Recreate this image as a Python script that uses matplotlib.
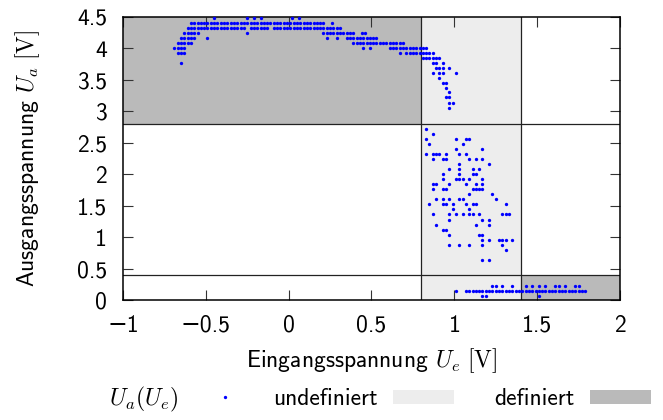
import matplotlib
matplotlib.use("Agg")
import matplotlib.pyplot as plt
from matplotlib.lines import Line2D
from matplotlib.patches import Patch

# ---------------- data ----------------
# Each entry: (Ua level, [Ue values measured at that level])
high_rows = [
    (4.49, [-0.45, -0.25, -0.21, -0.17, 0.02, 0.06]),
    (4.41, [-0.59, -0.57, -0.55, -0.53, -0.51, -0.49, -0.47, -0.45, -0.43, -0.41,
            -0.39, -0.37, -0.35, -0.33, -0.31, -0.29, -0.27, -0.25, -0.23, -0.21,
            -0.19, -0.17, -0.15, -0.13, -0.11, -0.09, -0.07, -0.05, -0.03, -0.01,
            0.01, 0.03, 0.05, 0.07, 0.09, 0.11, 0.13, 0.15, 0.17, 0.19, 0.21, 0.26]),
    (4.33, [-0.61, -0.59, -0.57, -0.55, -0.53, -0.51, -0.49, -0.47, -0.45, -0.43,
            -0.41, -0.39, -0.37, -0.35, -0.33, -0.31, -0.29, -0.27, -0.23, -0.21,
            -0.19, -0.17, -0.15, -0.13, -0.09, -0.07, -0.05, -0.03, -0.01, 0.01,
            0.03, 0.05, 0.07, 0.09, 0.11, 0.13, 0.15, 0.17, 0.19, 0.21, 0.23, 0.25,
            0.27, 0.29, 0.31]),
    (4.25, [-0.63, -0.61, -0.59, -0.57, -0.55, -0.25, 0.21, 0.23, 0.25, 0.27, 0.29,
            0.31, 0.33, 0.35, 0.37, 0.39, 0.44, 0.46]),
    (4.17, [-0.65, -0.63, -0.61, -0.59, -0.57, -0.49, 0.23, 0.29, 0.35, 0.37, 0.39,
            0.41, 0.43, 0.45, 0.47, 0.49, 0.51, 0.53]),
    (4.09, [-0.67, -0.65, -0.63, -0.61, -0.59, 0.39, 0.41, 0.43, 0.45, 0.47, 0.49,
            0.51, 0.53, 0.55, 0.57, 0.59, 0.61, 0.63, 0.65, 0.67, 0.69]),
    (4.01, [-0.69, -0.67, -0.65, -0.63, 0.45, 0.49, 0.61, 0.63, 0.65, 0.67, 0.69,
            0.71, 0.73, 0.75, 0.77, 0.79, 0.81, 0.83]),
    (3.93, [-0.67, -0.65, -0.63, 0.67, 0.71, 0.73, 0.75, 0.77, 0.79, 0.81, 0.83,
            0.85, 0.87]),
    (3.85, [0.81, 0.83, 0.85, 0.87, 0.89, 0.91]),
    (3.77, [-0.65, 0.87, 0.89, 0.93]),
]

transition_rows = [
    (3.69, [0.89, 0.91, 0.93, 0.97]),
    (3.61, [0.87, 0.91, 0.93, 1.01]),
    (3.53, [0.91]),
    (3.45, [0.93, 0.95]),
    (3.37, [0.95]),
    (3.30, [0.97]),
    (3.22, [0.95, 0.97]),
    (3.14, [0.97, 0.99]),
    (3.06, [0.97]),
    (2.72, [0.83]),
    (2.64, [0.87]),
    (2.56, [0.83, 1.01, 1.07, 1.09]),
    (2.48, [0.85, 1.05]),
    (2.40, [1.01, 1.17]),
    (2.32, [0.83, 0.87, 0.89, 0.91, 0.95, 1.03, 1.07]),
    (2.24, [0.87, 0.93, 0.95, 1.09, 1.13, 1.17]),
    (2.16, [1.03, 1.21]),
    (2.08, [0.97, 1.03, 1.11, 1.15]),
    (2.00, [0.93, 1.03, 1.11, 1.13]),
    (1.92, [0.93, 1.01, 1.03, 1.05, 1.09, 1.17]),
    (1.84, [0.87, 0.89, 0.97, 1.07, 1.13, 1.17]),
    (1.76, [0.87, 0.93, 0.95, 1.11, 1.13, 1.15, 1.17]),
    (1.68, [1.09, 1.23]),
    (1.60, [0.89, 0.93, 0.97, 1.03, 1.05, 1.25]),
    (1.52, [0.85, 0.93, 0.95, 0.99, 1.07, 1.11, 1.13, 1.31]),
    (1.44, [0.99, 1.09]),
    (1.36, [0.87, 0.97, 1.01, 1.05, 1.09, 1.11, 1.15, 1.29, 1.31, 1.33]),
    (1.28, [0.97, 1.17, 1.21]),
    (1.20, [0.89, 1.13, 1.21]),
    (1.12, [0.93, 0.95]),
    (1.04, [0.97, 1.15, 1.17]),
    (0.96, [1.17, 1.21, 1.27, 1.29, 1.31, 1.35]),
    (0.88, [0.97, 1.03, 1.09, 1.17, 1.29]),
    (0.80, [1.31]),
    (0.64, [1.17, 1.21]),
]

low_rows = [
    (0.23, [1.23, 1.25, 1.29, 1.35, 1.43, 1.47, 1.51, 1.55, 1.61, 1.63, 1.67, 1.73, 1.75]),
    (0.14, [1.01, 1.07, 1.09, 1.11, 1.13, 1.15, 1.17, 1.19, 1.21, 1.23, 1.25, 1.27,
            1.29, 1.31, 1.33, 1.35, 1.37, 1.39, 1.41, 1.43, 1.45, 1.47, 1.49, 1.51,
            1.53, 1.55, 1.57, 1.59, 1.61, 1.63, 1.65, 1.67, 1.69, 1.71, 1.73, 1.75,
            1.77, 1.79]),
    (0.06, [1.17, 1.19, 1.51]),
]

# regions: (x0, x1, y0, y1)
defined_regions = [(-1.0, 0.8, 2.8, 4.5), (1.4, 2.0, 0.0, 0.4)]
undefined_region = (0.8, 1.4, 0.0, 4.5)
h_limits = [2.8, 0.4]
v_limits = [0.8, 1.4]

x_ticks = [-1, -0.5, 0, 0.5, 1, 1.5, 2]
y_ticks = [0, 0.5, 1, 1.5, 2, 2.5, 3, 3.5, 4, 4.5]

# ---------------- style ----------------
plt.rcParams["font.family"] = ["cmss10", "DejaVu Sans"]
plt.rcParams["mathtext.fontset"] = "cm"
plt.rcParams["axes.unicode_minus"] = True
plt.rcParams["axes.formatter.use_mathtext"] = False
FS = 17

DARK = "#bababa"
LIGHT = "#ededed"
BLUE = "#0000ff"

fig = plt.figure(figsize=(6.63, 4.2), dpi=100)
ax = fig.add_axes([123 / 663, 1 - 300 / 420, (620 - 123) / 663, (300 - 17) / 420])

# regions
ux0, ux1, uy0, uy1 = undefined_region
ax.fill_between([ux0, ux1], uy0, uy1, color=LIGHT, lw=0, zorder=0)
for (x0, x1, y0, y1) in defined_regions:
    ax.fill_between([x0, x1], y0, y1, color=DARK, lw=0, zorder=0)
for yv in h_limits:
    ax.axhline(yv, color="#222222", lw=0.9, zorder=1)
for xv in v_limits:
    ax.axvline(xv, color="#222222", lw=0.9, zorder=1)

# points
xs, ys = [], []
for group in (high_rows, transition_rows, low_rows):
    for ua, ues in group:
        for ue in ues:
            xs.append(ue)
            ys.append(ua)
ax.plot(xs, ys, linestyle="none", marker="o", markersize=2.4, markeredgewidth=0,
        color=BLUE, zorder=3, clip_on=False)

ax.set_xlim(-1, 2)
ax.set_ylim(0, 4.5)
ax.set_xticks(x_ticks)
ax.set_yticks(y_ticks)
ax.set_xticklabels(["\u22121", "\u22120.5", "0", "0.5", "1", "1.5", "2"])
ax.set_yticklabels(["0", "0.5", "1", "1.5", "2", "2.5", "3", "3.5", "4", "4.5"])
ax.tick_params(direction="in", top=True, right=True, length=7, width=0.8,
               color="#333333", labelsize=FS)
ax.tick_params(axis="x", pad=10.5)
ax.tick_params(axis="y", pad=11.5)
for s in ax.spines.values():
    s.set_linewidth(1.1)

ax.set_xlabel(r"Eingangsspannung $U_e\ [\mathrm{V}]$", fontsize=FS)
ax.xaxis.set_label_coords(0.5, (300 - 346) / 283)
ax.set_ylabel(r"Ausgangsspannung $U_a\ [\mathrm{V}]$", fontsize=FS)
ax.yaxis.set_label_coords((42 - 123) / 497, 0.5)

# legend (three entries, text left of symbol)
entries = [
    (Line2D([], [], linestyle="none", marker="o", markersize=2.4,
            markeredgewidth=0, color=BLUE), r"$U_a(U_e)$", 109),
    (Patch(facecolor=LIGHT, edgecolor="none"), "undefiniert", 273),
    (Patch(facecolor=DARK, edgecolor="none"), "definiert", 494),
]
em = FS * 100 / 72
for handle, label, xpx in entries:
    fig.legend([handle], [label], loc="center left",
               bbox_to_anchor=(xpx / 663, 1 - 399 / 420),
               frameon=False, markerfirst=False, fontsize=FS,
               borderpad=0, borderaxespad=0,
               handlelength=61 / em, handletextpad=15.5 / em,
               handleheight=0.55)

fig.savefig("out.png", dpi=100)
